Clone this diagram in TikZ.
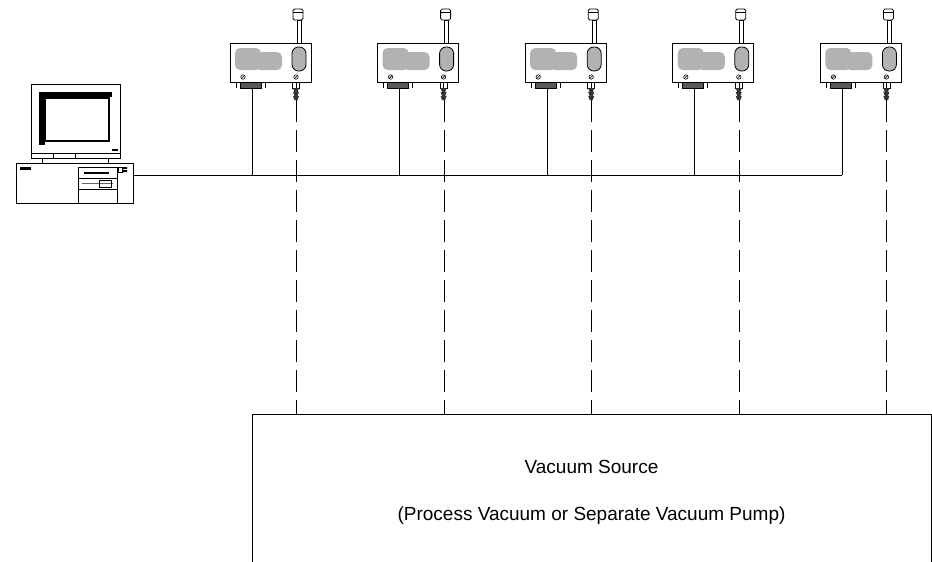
\documentclass[tikz,border=0pt]{standalone}
\usepackage{fontspec}
\setmainfont{Liberation Sans}
\begin{document}
\begin{tikzpicture}[x=1pt,y=-1pt,
  unitline/.style={draw=black,line width=0.8pt},
  busline/.style={draw=black,line width=0.8pt},
  hoseline/.style={draw=black,line width=0.9pt,dash pattern=on 22pt off 8pt},
  panelgray/.style={fill=black!30},
  caption/.style={anchor=base,inner sep=0pt,font=\fontsize{19}{23}\selectfont},
  pics/gauge/.style={code={
    % sensor stem and cap
    \draw[unitline,fill=white] (67,-23) rectangle (71,0);
    \draw[unitline,fill=white,rounded corners=1.5pt] (63,-34) rectangle (73,-23);
    \draw[line width=0.6pt] (63,-31) -- (73,-31);
    % housing
    \draw[unitline,fill=white] (0,0) rectangle (81,39);
    % display area
    \fill[panelgray,rounded corners=5pt] (5,5) rectangle (31,27);
    \fill[panelgray,rounded corners=5pt] (25,9) rectangle (52,27);
    % sight window
    \draw[unitline,fill=black!30,rounded corners=6.5pt] (62,4) rectangle (76,28);
    % screws
    \draw[line width=0.6pt] (13,34) circle (2.2);
    \draw[line width=0.6pt] (11.6,35.4) -- (14.4,32.6);
    \draw[line width=0.6pt] (66,34) circle (2.2);
    \draw[line width=0.6pt] (64.6,35.4) -- (67.4,32.6);
    % serial connector
    \draw[unitline,fill=black!65] (10,39) rectangle (31,45);
    \draw[line width=0.8pt] (6,40) -- (6,45) (35,40) -- (35,45);
    % vacuum fitting
    \draw[unitline,fill=white] (62.5,39) rectangle (69.5,45);
    \draw[line width=0.5pt] (66,39) -- (66,45);
    \foreach \k in {0,1,2}{
      \fill[black!80] (63,45+4*\k) -- (69,45+4*\k) -- (67.6,49+4*\k) -- (64.4,49+4*\k) -- cycle;
    }
    \coordinate (-ser) at (22,45);
    \coordinate (-hose) at (66.5,57);
  }}
]
\path[use as bounding box] (0,0) rectangle (932,562);
\clip (0,0) rectangle (932,562);

% monitor
\draw[unitline,fill=white] (31,84) rectangle (120,158);
\draw[unitline] (31,153) -- (120,153) (53,153) -- (53,158) (75,153) -- (75,158);
\fill (39,92) rectangle (112,97);
\fill (39,92) rectangle (45,145);
\draw[line width=2pt] (45,97.5) rectangle (108.7,141.3);
\fill (112,148.5) rectangle (117.5,151);
\draw[unitline] (42,158) -- (42,163) (108,158) -- (108,163);

% system unit
\draw[unitline,fill=white] (16,163) rectangle (133,203);
\fill (20,167) rectangle (31,170);
\draw[unitline] (78,167) rectangle (117,203);
\draw[unitline] (78,178) -- (117,178) (78,189) -- (117,189);
\fill (84,172) rectangle (109,174.3);
\draw[black!60,line width=0.8pt] (82,183.5) -- (113,183.5);
\draw[unitline] (99,180) rectangle (111,187);
\draw[line width=0.6pt] (118,167) rectangle (122,172);
\fill (123,167) rectangle (127,169.2) (123,170) rectangle (127,172);
\coordinate (pcport) at (133,175);

% vacuum gauges
\pic (d1) at (230,43) {gauge};
\pic (d2) at (377.6,43) {gauge};
\pic (d3) at (525.2,43) {gauge};
\pic (d4) at (672.8,43) {gauge};
\pic (d5) at (820.4,43) {gauge};

% vacuum source
\node[draw=black,line width=0.9pt,anchor=north west,inner sep=0pt,
      minimum width=679pt,minimum height=200pt] (vac) at (252,414) {};
\node[caption] (vsrc) at (591.5,473) {Vacuum Source};
\node[caption] (vsrcnote) at (591.5,520) {(Process Vacuum or Separate Vacuum Pump)};

% communication bus
\draw[busline] (pcport) -- (d5-ser |- pcport);
\foreach \d in {d1,d2,d3,d4,d5}{
  \draw[busline] (\d-ser) -- (\d-ser |- pcport);
  \draw[hoseline] (\d-hose) -- (\d-hose |- vac.north);
}
\end{tikzpicture}
\end{document}
